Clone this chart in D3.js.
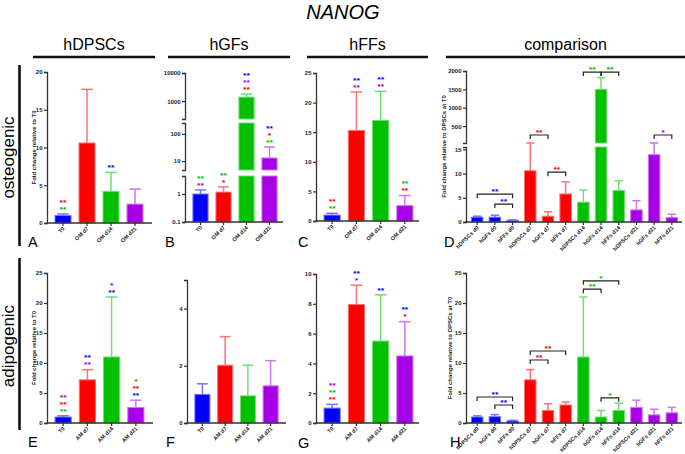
<!DOCTYPE html>
<html><head><meta charset="utf-8">
<script src="https://cdn.jsdelivr.net/npm/d3@7"></script>
<style>body{margin:0;background:#fff}svg{display:block}text{font-family:"Liberation Sans",Arial,Helvetica,sans-serif}</style>
</head><body><svg id="c" width="685" height="454"></svg>
<script>
const chartTitle = "NANOG";
const columnHeaders = ["hDPSCs","hGFs","hFFs","comparison"];
const rowHeaders = ["osteogenic","adipogenic"];
const panelLetters = ["A","B","C","D","E","F","G","H"];
const yTitleT0 = "Fold change relative to T0";
const yTitleComp = "Fold change relative to DPSCs at T0";

const osteoCategories = ["T0","OM d7","OM d14","OM d21"];
const adipoCategories = ["T0","AM d7","AM d14","AM d21"];
const compCategories = ["hDPSCs d0","hGFs d0","hFFs d0","hDPSCs d7","hGFs d7","hFFs d7","hDPSCs d14","hGFs d14","hFFs d14","hDPSCs d21","hGFs d21","hFFs d21"];
const groupOf4 = [0,1,2,3];
const groupOf12 = [0,0,0,1,1,1,2,2,2,3,3,3];
const seriesColors = ["#0000ff","#ff0000","#00c000","#a800e6"];

// values (mean) and error-bar tops
const aMean = [1.0,10.6,4.2,2.5],  aErr = [1.2,17.7,6.7,4.5];
const bMean = [1.0,1.17,1380,13],  bErr = [1.4,1.8,1780,33];
const cMean = [1.0,15.3,17.0,2.6], cErr = [1.3,21.8,21.9,4.3];
const dMean = [1.0,1.0,0.35,10.6,1.2,5.8,4.1,1500,6.5,2.5,13.9,0.9];
const dErr  = [1.2,1.4,0.45,17.7,2.1,8.3,6.6,1820,8.5,4.4,20,1.6];
const eMean = [1.0,7.2,11.0,2.6],  eErr = [1.2,8.9,21.0,3.8];
const fMean = [1.0,2.02,0.95,1.3], fErr = [1.37,3.02,2.02,2.18];
const gMean = [1.0,7.95,5.5,4.5],  gErr = [1.25,9.25,8.6,6.8];
const hMean = [1.0,1.05,0.35,7.2,2.1,3.0,11.0,1.0,2.1,2.6,1.35,1.7];
const hErr  = [1.2,1.4,0.45,8.9,3.2,3.5,21.0,2.1,3.3,3.8,2.3,2.6];

// tick values
const ticksA = [0,5,10,15,20];
const ticks25 = [0,5,10,15,20,25];
const ticksB = [[0.1,1],[10,100],[1000,10000]];
const ticksD = [[0,5,10,15],[500,1000,1500,2000]];
const ticksF = [0,2,4];
const ticksG = [0,2,4,6,8,10];

// significance stars, bottom-up per bar: [bar, text, colourIndex]
const starsA = [[0,"**",2],[0,"**",1],[2,"**",0]];
const starsB = [[0,"**",3],[0,"**",2],[1,"*",3],[1,"**",2],[2,"**",1],[2,"**",3],[2,"**",0],[3,"**",2],[3,"*",1],[3,"**",0]];
const starsC = [[0,"**",2],[0,"**",1],[1,"**",3],[1,"**",0],[2,"**",3],[2,"**",0],[3,"**",1],[3,"**",2]];
const starsE = [[0,"**",2],[0,"**",1],[0,"**",3],[1,"**",3],[1,"**",0],[2,"**",0],[2,"*",3],[3,"**",0],[3,"**",1],[3,"*",2]];
const starsG = [[0,"**",1],[0,"**",2],[0,"**",3],[1,"*",3],[1,"**",0],[2,"**",0],[3,"*",1],[3,"**",0]];
// brackets: [fromBar, toBar, level, text, colourIndex]
const bracketsD = [[0,2,5.75,"**",0],[1,2,3.7,"**",0],[3,4,258,"**",1],[4,5,10.3,"**",1],[6,7,1970,"**",2],[7,8,1970,"**",2],[10,11,258,"*",3]];
const bracketsH = [[0,2,4.33,"**",0],[1,2,3.0,"**",0],[3,4,10.5,"**",1],[3,5,12.0,"**",1],[6,7,22.3,"**",2],[6,8,23.7,"*",2],[7,8,4.2,"*",2]];

const svg = d3.select("#c");
const light = c => d3.interpolateRgb(c, "#ffffff")(0.45);
const AX = "#333";

svg.append("text").attr("x",343).attr("y",19).attr("text-anchor","middle")
  .attr("font-size",20).attr("font-style","italic").text(chartTitle);

const headerSpans = [[33,155],[168,290],[307,428],[446,685]];
columnHeaders.forEach((h,i)=>{
  const [a,b] = headerSpans[i];
  svg.append("text").attr("x",(a+b)/2).attr("y",50).attr("text-anchor","middle").attr("font-size",16).text(h);
  svg.append("line").attr("x1",a).attr("x2",b).attr("y1",57).attr("y2",57).attr("stroke","#111").attr("stroke-width",2.6);
});
const rowSpans = [[65,246],[258,430]];
rowHeaders.forEach((r,i)=>{
  const [a,b] = rowSpans[i];
  svg.append("text").attr("transform",`translate(14,${(a+b)/2+2}) rotate(-90)`).attr("text-anchor","middle").attr("font-size",17).text(r);
  svg.append("line").attr("x1",19.5).attr("x2",19.5).attr("y1",a).attr("y2",b).attr("stroke","#111").attr("stroke-width",2.6);
});

const letterPos = [[28,247],[165,247],[298,247],[444,247],[28,447],[166,447],[298,448],[450,447]];
panelLetters.forEach((L,i)=>svg.append("text").attr("x",letterPos[i][0]).attr("y",letterPos[i][1]).attr("font-size",14.5).text(L));

function starText(g, cx, cy, t, col){
  g.append("text").attr("transform",`translate(${cx},${cy+3.7}) scale(1.1,0.8)`).attr("text-anchor","middle")
    .attr("font-size",8).attr("font-weight","bold").attr("fill",col).text(t);
}

function panel(o){
  const g = svg.append("g");
  const x = d3.scaleBand().domain(o.cats).range(o.xr).paddingInner(o.pi).paddingOuter(o.po);
  const segs = o.segs;
  const yFn = v => {
    for (let k=0;k<segs.length;k++){
      const s=segs[k];
      if (v<=s.hi) return v>=s.lo ? s.s(v) : s.s(s.lo);
    }
    const s=segs[segs.length-1]; return s.s(s.hi);
  };
  const yb = segs[0].s(segs[0].lo);
  const bw = x.bandwidth();
  // bars
  o.mean.forEach((v,i)=>{
    const c = seriesColors[o.grp[i]];
    segs.forEach(s=>{
      if (v> s.lo){
        const top = s.s(Math.min(v,s.hi)), bot = s.s(s.lo);
        g.append("rect").attr("x",x(o.cats[i])).attr("width",bw).attr("y",top).attr("height",bot-top)
          .attr("fill",c).attr("stroke",light(c)).attr("stroke-width",1);
      }
    });
  });
  // error bars
  o.err.forEach((e,i)=>{
    const c = light(seriesColors[o.grp[i]]);
    const cx = x(o.cats[i])+bw/2, y0=yFn(o.mean[i]), y1=yFn(e);
    g.append("line").attr("x1",cx).attr("x2",cx).attr("y1",y0).attr("y2",y1).attr("stroke",c).attr("stroke-width",1.5);
    g.append("line").attr("x1",cx-bw*0.36).attr("x2",cx+bw*0.36).attr("y1",y1).attr("y2",y1).attr("stroke",c).attr("stroke-width",1.5);
  });
  // y axes
  segs.forEach(s=>{
    const ax = g.append("g").attr("transform",`translate(${o.ax},0)`)
      .call(d3.axisLeft(s.s).tickValues(s.ticks).tickFormat(s.fmt||(d=>d)).tickSize(3).tickSizeOuter(3));
    ax.select(".domain").attr("stroke",AX).attr("stroke-width",1.3);
    ax.selectAll(".tick line").attr("stroke",AX).attr("stroke-width",1.2);
    ax.selectAll(".tick text").attr("x",-4.5).attr("font-size",6).attr("font-weight","bold").attr("fill","#222")
      .attr("font-family",'"Liberation Sans",Arial,sans-serif');
  });
  // x axis
  const xa = g.append("g").attr("transform",`translate(0,${yb})`).call(d3.axisBottom(x).tickSize(3).tickSizeOuter(0));
  xa.select(".domain").remove();
  xa.selectAll(".tick line").attr("stroke",AX).attr("stroke-width",1.2);
  xa.selectAll(".tick text").attr("x",0).attr("y",0).attr("dy",0).attr("transform","translate(2,6) rotate(-45)")
    .attr("text-anchor","end").attr("font-size",5.5).attr("font-weight","bold").attr("fill","#222")
    .attr("font-family",'"Liberation Sans",Arial,sans-serif');
  g.append("line").attr("x1",o.ax-0.6).attr("x2",o.xEnd).attr("y1",yb).attr("y2",yb).attr("stroke",AX).attr("stroke-width",1.3);
  // y title
  if (o.ytitle){
    const ymid = (yb + segs[segs.length-1].s(segs[segs.length-1].hi))/2;
    g.append("text").attr("transform",`translate(${o.tx},${ymid}) rotate(-90)`).attr("text-anchor","middle")
      .attr("font-size",6).attr("font-weight","bold").attr("fill","#222").text(o.ytitle);
  }
  // stars
  if (o.stars){
    const count = {};
    o.stars.forEach(([b,t,ci])=>{
      const k = count[b]||0; count[b]=k+1;
      const cy = yFn(o.err[b]) - 6 - k*7;
      starText(g, x(o.cats[b])+bw/2, cy, t, seriesColors[ci]);
    });
  }
  // brackets
  if (o.brackets){
    o.brackets.forEach(([a,b,lv,t,ci])=>{
      const x1 = x(o.cats[a])+bw/2, x2 = x(o.cats[b])+bw/2, y = yFn(lv);
      g.append("path").attr("d",`M${x1},${y+4}V${y}H${x2}V${y+4}`).attr("fill","none").attr("stroke","#222").attr("stroke-width",1.2);
      starText(g, (x1+x2)/2, y-4, t, seriesColors[ci]);
    });
  }
}

const lin = (d0,d1,r0,r1) => d3.scaleLinear().domain([d0,d1]).range([r0,r1]);

// A
panel({cats:osteoCategories, grp:groupOf4, mean:aMean, err:aErr, xr:[51,147], pi:0.333, po:0.167, ax:47, xEnd:152,
  segs:[{s:lin(0,20,223,72), lo:0, hi:20, ticks:ticksA}], ytitle:yTitleT0, tx:36, stars:starsA});
// B (broken log axis)
const logFmt = d => d>=1 ? String(d) : "0.1";
panel({cats:osteoCategories, grp:groupOf4, mean:bMean, err:bErr, xr:[189,281], pi:0.34, po:0.17, ax:185, xEnd:283,
  segs:[{s:d3.scaleLog().domain([0.1,4.4]).range([222,176]), lo:0.1, hi:4.4, ticks:ticksB[0], fmt:logFmt},
        {s:d3.scaleLog().domain([4.7,250]).range([170,123]), lo:4.7, hi:250, ticks:ticksB[1], fmt:logFmt},
        {s:d3.scaleLog().domain([230,10000]).range([119,73]), lo:230, hi:10000, ticks:ticksB[2], fmt:logFmt}],
  stars:starsB});
// C
panel({cats:osteoCategories, grp:groupOf4, mean:cMean, err:cErr, xr:[320,417], pi:0.333, po:0.167, ax:316, xEnd:419,
  segs:[{s:lin(0,25,221,73), lo:0, hi:25, ticks:ticks25}], stars:starsC});
// D (broken linear axis)
panel({cats:compCategories, grp:groupOf12, mean:dMean, err:dErr, xr:[467,682], pi:0.35, po:0.25, ax:466, xEnd:682,
  segs:[{s:lin(0,15.5,222,147), lo:0, hi:15.5, ticks:ticksD[0]},
        {s:lin(40,2000,143,71), lo:40, hi:2000, ticks:ticksD[1]}],
  ytitle:yTitleComp, tx:446, brackets:bracketsD});
// E
panel({cats:adipoCategories, grp:groupOf4, mean:eMean, err:eErr, xr:[51,148], pi:0.333, po:0.167, ax:47, xEnd:153,
  segs:[{s:lin(0,25,423,273), lo:0, hi:25, ticks:ticks25}], ytitle:yTitleT0, tx:36, stars:starsE});
// F
panel({cats:adipoCategories, grp:groupOf4, mean:fMean, err:fErr, xr:[191,282], pi:0.34, po:0.17, ax:187, xEnd:286,
  segs:[{s:lin(0,5,423,280), lo:0, hi:5, ticks:ticksF}]});
// G
panel({cats:adipoCategories, grp:groupOf4, mean:gMean, err:gErr, xr:[320,417], pi:0.333, po:0.167, ax:316, xEnd:419,
  segs:[{s:lin(0,10,423,274), lo:0, hi:10, ticks:ticksG}], stars:starsG});
// H
panel({cats:compCategories, grp:groupOf12, mean:hMean, err:hErr, xr:[467,682], pi:0.35, po:0.25, ax:466, xEnd:682,
  segs:[{s:lin(0,25,423,273), lo:0, hi:25, ticks:ticks25}], ytitle:yTitleComp, tx:452, brackets:bracketsH});
</script></body></html>
